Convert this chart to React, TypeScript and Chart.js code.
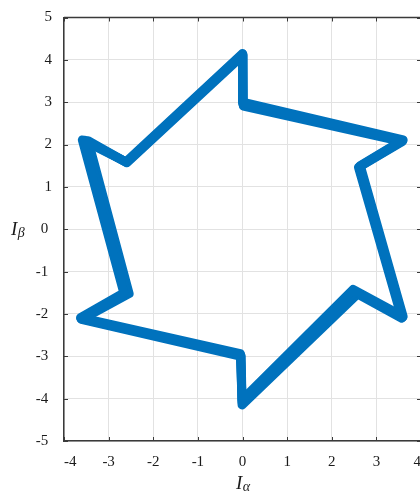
import React, { useEffect, useRef } from "react";
import { Chart, registerables } from "chart.js";

Chart.register(...registerables);

// Axis ticks
const xTicks = [-4, -3, -2, -1, 0, 1, 2, 3, 4];
const yTicks = [-5, -4, -3, -2, -1, 0, 1, 2, 3, 4, 5];

// Trajectory laps (vertices: O90, I90, O30, I30, O-30, I-30, O-90, I-90, O210, I210, O150, I150, O90)
const lap1X = [0.0, 0.0, 3.6, 2.64, 3.6, 2.48, -0.01, -0.05, -3.63, -2.66, -3.59, -2.61, 0.0];
const lap1Y = [4.15, 3.0, 2.11, 1.5, -2.06, -1.42, -4.03, -2.94, -2.09, -1.5, 2.11, 1.59, 4.15];

const lap2X = [0.0, 0.01, 3.59, 2.62, 3.59, 2.53, -0.01, -0.04, -3.62, -2.6, -3.53, -2.6, 0.0];
const lap2Y = [4.13, 2.95, 2.09, 1.48, -2.08, -1.47, -4.09, -2.97, -2.11, -1.51, 2.1, 1.58, 4.13];

const lap3X = [0.01, 0.02, 3.58, 2.6, 3.57, 2.58, -0.01, -0.03, -3.61, -2.54, -3.46, -2.59, 0.01];
const lap3Y = [4.11, 2.91, 2.07, 1.46, -2.1, -1.53, -4.15, -3.0, -2.13, -1.52, 2.09, 1.57, 4.11];

const BLUE = "#0072BD";
const GRID = "#e2e2e2";
const AXIS = "#3a3a3a";
const TEXT = "#1a1a1a";
const SERIF = "'Liberation Serif', 'Times New Roman', serif";

const framePlugin = {
  id: "frameAndTitles",
  afterDraw(chart: any) {
    const ctx = chart.ctx as CanvasRenderingContext2D;
    const { left, right, top, bottom } = chart.chartArea;
    const xs = chart.scales.x;
    const ys = chart.scales.y;
    ctx.save();
    ctx.strokeStyle = AXIS;
    ctx.lineWidth = 1.5;
    ctx.beginPath();
    ctx.moveTo(left, top);
    ctx.lineTo(right, top);
    ctx.moveTo(right, top);
    ctx.lineTo(right, bottom);
    ctx.stroke();

    ctx.lineWidth = 1;
    ctx.beginPath();
    for (const v of xTicks) {
      const px = Math.round(xs.getPixelForValue(v)) + 0.5;
      ctx.moveTo(px, bottom);
      ctx.lineTo(px, bottom - 4);
      ctx.moveTo(px, top);
      ctx.lineTo(px, top + 4);
    }
    for (const v of yTicks) {
      const py = Math.round(ys.getPixelForValue(v)) + 0.5;
      ctx.moveTo(left, py);
      ctx.lineTo(left + 4, py);
      ctx.moveTo(right, py);
      ctx.lineTo(right - 4, py);
    }
    ctx.stroke();

    // axis titles
    ctx.fillStyle = TEXT;
    ctx.textAlign = "left";
    ctx.textBaseline = "alphabetic";
    // x title: I_alpha
    ctx.font = `italic 19px ${SERIF}`;
    const xStart = 236;
    ctx.fillText("I", xStart, 489);
    const wI = ctx.measureText("I").width;
    ctx.font = `italic 14px ${SERIF}`;
    ctx.fillText("α", xStart + wI + 0.5, 491);
    // y title: I_beta
    ctx.font = `italic 19px ${SERIF}`;
    const yStart = 11;
    ctx.fillText("I", yStart, 235);
    ctx.font = `italic 14px ${SERIF}`;
    ctx.fillText("β", yStart + wI + 0.5, 237);
    ctx.restore();
  },
};

export default function App() {
  const canvasRef = useRef<HTMLCanvasElement | null>(null);

  useEffect(() => {
    if (!canvasRef.current) return;
    const laps = [
      [lap1X, lap1Y],
      [lap2X, lap2Y],
      [lap3X, lap3Y],
    ];
    const datasets = laps.map(([xs, ys]) => ({
      data: xs.map((x, i) => ({ x, y: ys[i] })),
      showLine: true,
      borderColor: BLUE,
      backgroundColor: BLUE,
      borderWidth: 9,
      pointRadius: 0,
      pointHoverRadius: 0,
      borderJoinStyle: "round" as const,
      borderCapStyle: "round" as const,
      tension: 0,
      fill: false,
    }));

    const tickFont = { family: SERIF, size: 15 };

    const chart = new Chart(canvasRef.current, {
      type: "scatter",
      data: { datasets },
      options: {
        responsive: false,
        animation: false,
        devicePixelRatio: 1,
        layout: { padding: { left: 0, right: 0, top: 17.5, bottom: 0 } },
        plugins: {
          legend: { display: false },
          tooltip: { enabled: false },
        },
        scales: {
          x: {
            type: "linear",
            min: -4,
            max: 4,
            afterFit: (s: any) => {
              s.height = 50;
              s.paddingLeft = 0;
              s.paddingRight = 0;
            },
            grid: { color: GRID, lineWidth: 1, drawTicks: false },
            border: { display: true, color: AXIS, width: 1.5 },
            ticks: {
              stepSize: 1,
              padding: 12,
              align: "inner",
              autoSkip: false,
              maxRotation: 0,
              color: TEXT,
              font: tickFont,
            },
          },
          y: {
            type: "linear",
            min: -5,
            max: 5,
            afterFit: (s: any) => {
              s.width = 64;
              s.paddingTop = 0;
              s.paddingBottom = 0;
            },
            grid: { color: GRID, lineWidth: 1, drawTicks: false },
            border: { display: true, color: AXIS, width: 1.5 },
            ticks: {
              stepSize: 1,
              padding: 12,
              autoSkip: false,
              color: TEXT,
              font: tickFont,
              callback: (v: any) => (Number(v) <= 0 ? `${v} ` : `${v}`),
            },
          },
        },
      },
      plugins: [framePlugin],
    });
    return () => chart.destroy();
  }, []);

  return (
    <div
      style={{
        position: "fixed",
        left: 0,
        top: 0,
        width: 420,
        height: 491,
        overflow: "hidden",
        background: "#fff",
      }}
    >
      <canvas ref={canvasRef} width={421} height={491} style={{ display: "block" }} />
    </div>
  );
}
